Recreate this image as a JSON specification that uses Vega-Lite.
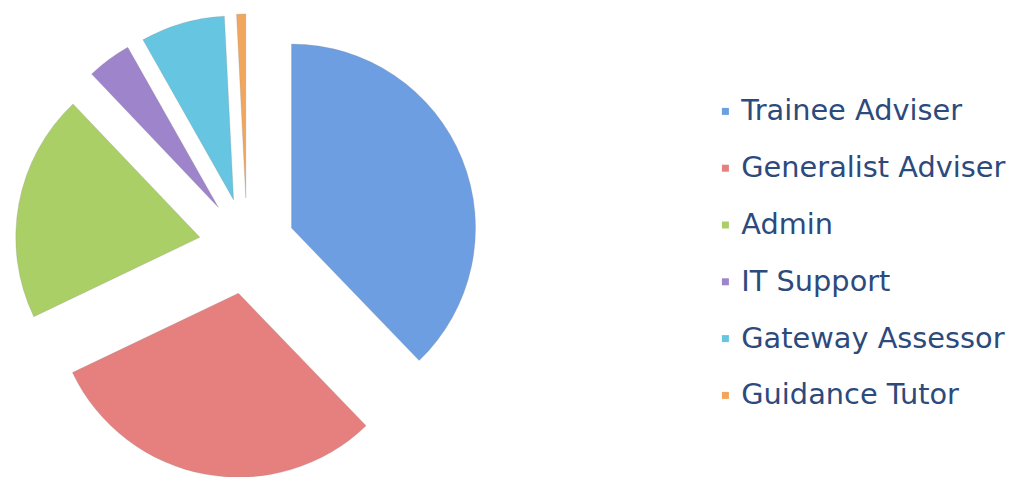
{
  "$schema": "https://vega.github.io/schema/vega-lite/v6.json",
  "width": 494,
  "height": 462,
  "autosize": "none",
  "padding": {"left": 0, "top": 15, "right": 518, "bottom": 0},
  "background": "white",
  "data": {
    "values": [
      {"role": "Trainee Adviser", "value": 37.8, "rank": 1},
      {"role": "Generalist Adviser", "value": 30.1, "rank": 2},
      {"role": "Admin", "value": 20.0, "rank": 3},
      {"role": "IT Support", "value": 3.9, "rank": 4},
      {"role": "Gateway Assessor", "value": 7.4, "rank": 5},
      {"role": "Guidance Tutor", "value": 0.8, "rank": 6}
    ]
  },
  "mark": {
    "type": "arc",
    "radius": 184,
    "stroke": "#8a8a8a",
    "strokeOpacity": 0.25,
    "strokeWidth": 1,
    "xOffset": {"expr": "48*sin(scale('theta', (datum.value_start + datum.value_end)/2))"},
    "yOffset": {"expr": "-48*cos(scale('theta', (datum.value_start + datum.value_end)/2))"}
  },
  "encoding": {
    "theta": {"field": "value", "type": "quantitative", "stack": true},
    "order": {"field": "rank", "type": "quantitative"},
    "color": {
      "field": "role",
      "type": "nominal",
      "sort": ["Trainee Adviser", "Generalist Adviser", "Admin", "IT Support", "Gateway Assessor", "Guidance Tutor"],
      "scale": {
        "domain": ["Trainee Adviser", "Generalist Adviser", "Admin", "IT Support", "Gateway Assessor", "Guidance Tutor"],
        "range": ["#6d9ee1", "#e6807e", "#aacf66", "#9e84cb", "#66c5e1", "#f2a55c"]
      },
      "legend": {
        "title": null,
        "orient": "none",
        "legendX": 711,
        "legendY": 82,
        "symbolType": "square",
        "symbolSize": 49,
        "symbolStrokeWidth": 0,
        "labelFont": "DejaVu Sans",
        "labelFontSize": 28.8,
        "labelColor": "#2c4a7c",
        "labelOffset": 1.5,
        "rowPadding": 26.8,
        "labelLimit": 400
      }
    }
  }
}
